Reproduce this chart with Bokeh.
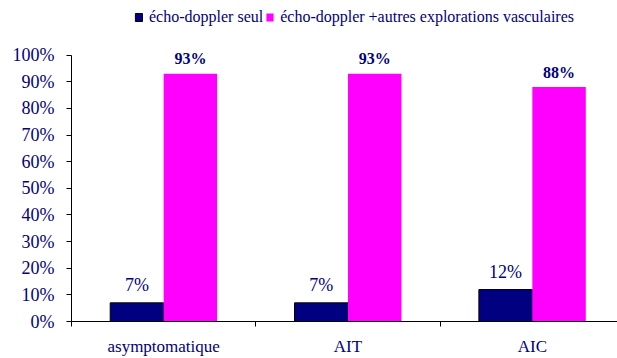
from bokeh.plotting import figure
from bokeh.models import (ColumnDataSource, FixedTicker, Legend, LegendItem,
                          Range1d)
from bokeh.core.properties import value
from bokeh.embed import file_html
from bokeh.resources import INLINE

# Data: share of patients by exploration type, per clinical group (%)
categories = ["asymptomatique", "AIT", "AIC"]
doppler_seul = [7, 7, 12]
doppler_autres = [93, 93, 88]
series_names = ["écho-doppler seul", "écho-doppler +autres explorations vasculaires"]
y_ticks = [0, 10, 20, 30, 40, 50, 60, 70, 80, 90, 100]

FONT = "Liberation Serif"
NAVY = "#000080"
MAGENTA = "#FF00FF"
BAR_W = 0.29

centers = [i + 0.5 for i in range(len(categories))]
src_a = ColumnDataSource(dict(
    x=[c - BAR_W / 2 for c in centers], top=doppler_seul,
    label=[f"{v:g}%" for v in doppler_seul]))
src_b = ColumnDataSource(dict(
    x=[c + BAR_W / 2 for c in centers], top=doppler_autres,
    label=[f"{v:g}%" for v in doppler_autres]))

p = figure(width=617, height=358, output_backend="svg", toolbar_location=None,
           x_range=Range1d(0, 2.962), y_range=Range1d(0, 120.5),
           min_border_left=71, min_border_right=0, min_border_top=0,
           min_border_bottom=35)
p.outline_line_color = None
p.grid.visible = False
p.background_fill_color = "white"
p.border_fill_color = "white"

r1 = p.vbar(x="x", top="top", width=BAR_W, source=src_a,
            fill_color=NAVY, line_color="black", line_width=1)
r2 = p.vbar(x="x", top="top", width=BAR_W, source=src_b,
            fill_color=MAGENTA, line_color=None)

p.text(x="x", y="top", text="label", source=src_a,
       text_font=value(FONT), text_font_size="18px", text_color=NAVY,
       text_align="center", text_baseline="alphabetic", y_offset=-18)
p.text(x="x", y="top", text="label", source=src_b,
       text_font=value(FONT), text_font_size="16px", text_font_style="bold",
       text_color=NAVY, text_align="center", text_baseline="alphabetic",
       y_offset=-15)

# y axis: percentages 0..100
yax = p.yaxis[0]
yax.bounds = (0, 100)
yax.ticker = FixedTicker(ticks=y_ticks)
yax.major_label_overrides = {t: f"{t}%" for t in y_ticks}
yax.major_tick_out = 5
yax.major_tick_in = 0
yax.minor_tick_out = 0
yax.minor_tick_in = 0
yax.major_label_standoff = 12
yax.major_label_text_font = FONT
yax.major_label_text_font_size = "18px"
yax.major_label_text_color = NAVY
yax.axis_line_color = "black"

# x axis: labels at group centers, tick marks at group boundaries
xax = p.xaxis[0]
xax.ticker = FixedTicker(ticks=centers, minor_ticks=[0, 1, 2, 3])
xax.major_label_overrides = {c: n for c, n in zip(centers, categories)}
xax.major_tick_out = 0
xax.major_tick_in = 0
xax.minor_tick_out = 5
xax.minor_tick_in = 0
xax.major_label_standoff = 10
xax.major_label_text_font = FONT
xax.major_label_text_font_size = "17px"
xax.major_label_text_color = NAVY
xax.axis_line_color = "black"

legend = Legend(items=[LegendItem(label=series_names[0], renderers=[r1]),
                       LegendItem(label=series_names[1], renderers=[r2])],
                orientation="horizontal", location=(63, 295),
                glyph_width=9, glyph_height=10, label_height=10,
                label_standoff=6, spacing=2, padding=0, margin=0,
                border_line_color=None, background_fill_alpha=0,
                label_text_font=FONT, label_text_font_size="16px",
                label_text_color=NAVY)
p.add_layout(legend)

open("out.html", "w").write(file_html(p, INLINE))
